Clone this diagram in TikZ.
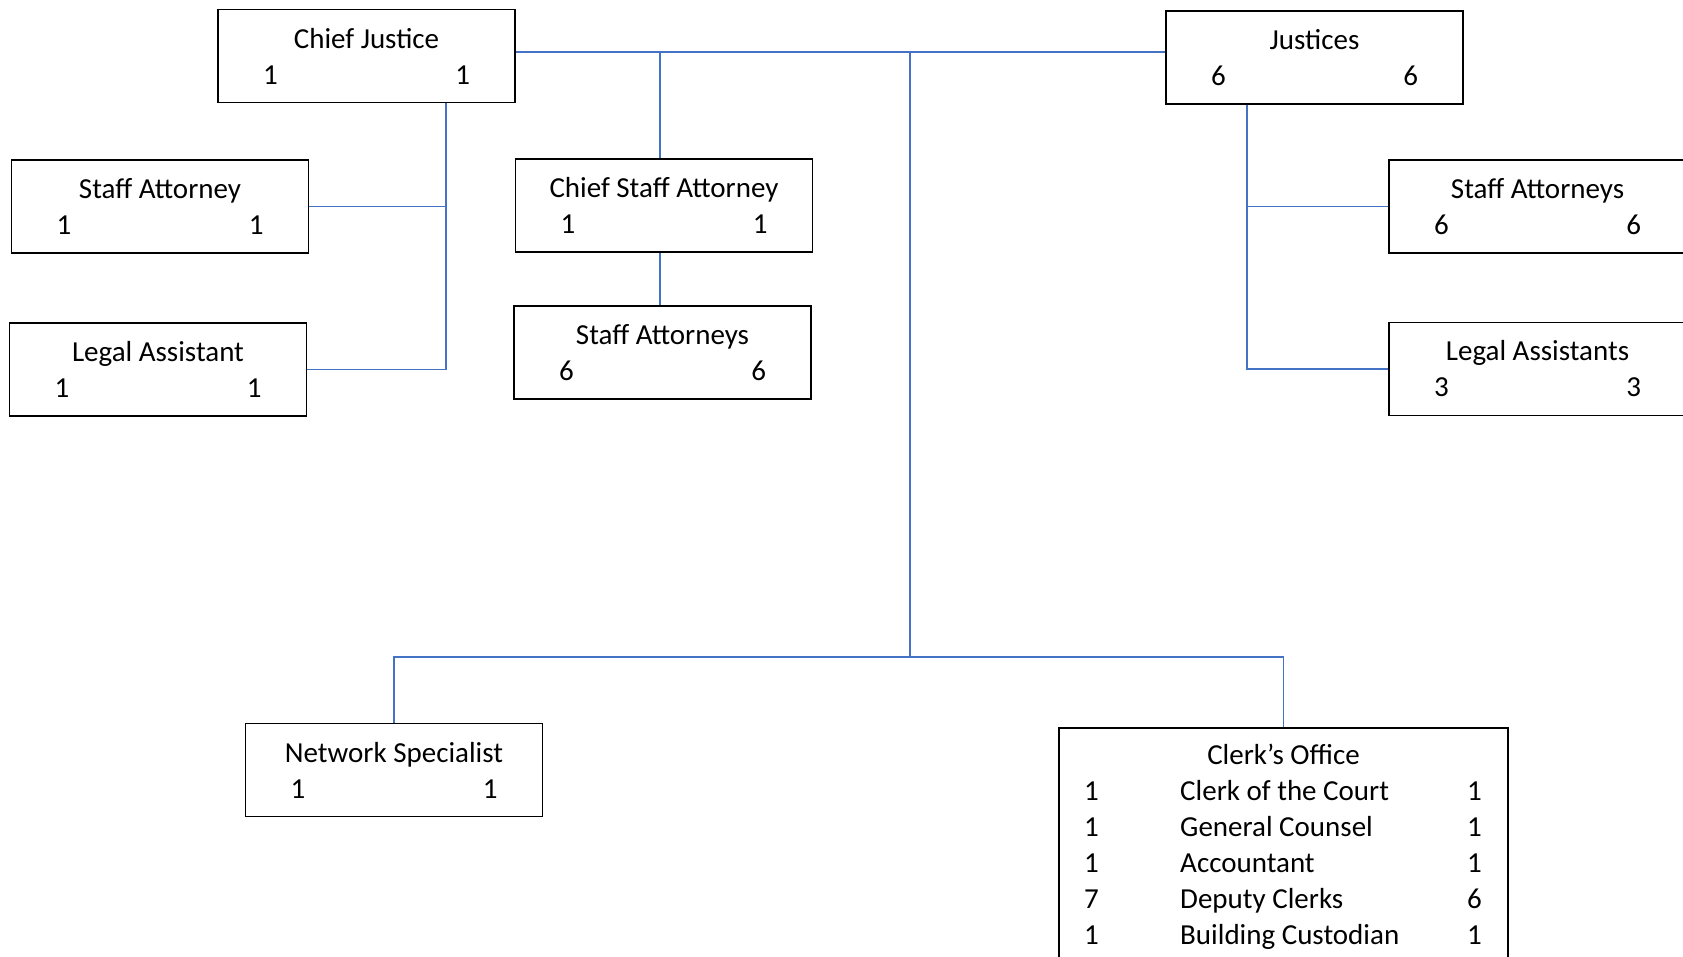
\documentclass[tikz,border=0pt]{standalone}
\usepackage{fontspec}
\setmainfont{Carlito}
\usetikzlibrary{calc}
\definecolor{linkblue}{HTML}{4472C4}
\newcommand{\posttext}[3]{\makebox[207pt]{#1}\\\makebox[207pt]{#2\hfill#3}}
\tikzset{
    post/.style =   {rectangle,
                    fill=white,
                    draw=black,
                    text=black,
                    line width=1.6pt,
                    minimum width=297pt,
                    minimum height=93pt,
                    inner xsep=45pt,
                    inner ysep=0pt,
                    align=center},
    office/.style = {rectangle,
                    fill=white,
                    draw=black,
                    line width=1.6pt,
                    minimum width=449pt,
                    minimum height=260pt,
                    anchor=north},
    entry/.style =  {inner sep=0pt,
                    text=black},
    link/.style =   {draw=linkblue,
                    line width=1.2pt}
}
\begin{document}
\begin{tikzpicture}[x=1pt,y=-1pt,font=\fontsize{29}{36}\selectfont]
            \useasboundingbox (0,0) rectangle (1683,957);
            \clip (0,0) rectangle (1683,957);
            \fill[white] (0,0) rectangle (1683,957);
            % boxes
            \node[post]   (cj)    at (366.5,56)      {\posttext{Chief Justice}{1}{1}};
            \node[post]   (just)  at (1314.5,57.5)   {\posttext{Justices}{6}{6}};
            \node[post]   (sa)    at (160,206.5)     {\posttext{Staff Attorney}{1}{1}};
            \node[post]   (la)    at (158,369.5)     {\posttext{Legal Assistant}{1}{1}};
            \node[post]   (csa)   at (664,205.5)     {\posttext{Chief Staff Attorney}{1}{1}};
            \node[post]   (csas)  at (662.5,352.5)   {\posttext{Staff Attorneys}{6}{6}};
            \node[post]   (jsa)   at (1537.5,206.5)  {\posttext{Staff Attorneys}{6}{6}};
            \node[post]   (jla)   at (1537.5,369)    {\posttext{Legal Assistants}{3}{3}};
            \node[post]   (ns)    at (394,770)       {\posttext{Network Specialist}{1}{1}};
            \node[office] (clerk) at (1283.5,727)    {};
            \node[entry,anchor=base] (cotitle) at (1283.5,764) {Clerk’s Office};
            \foreach \a/\job/\b [count=\i from 0] in {1/Clerk of the Court/1,
                    1/General Counsel/1, 1/Accountant/1, 7/Deputy Clerks/6,
                    1/Building Custodian/1}
            {
                \node[entry,anchor=base]      (cnl\i)  at (1091.5,{800+36.2*\i}) {\a};
                \node[entry,anchor=base west] (cjob\i) at (1180,{800+36.2*\i})   {\job};
                \node[entry,anchor=base]      (cnr\i)  at (1474.5,{800+36.2*\i}) {\b};
            }
            % taps
            \coordinate (toptap) at (910,52);
            \coordinate (hub)    at (910,657);
            \coordinate (csatap) at (660,52);
            \coordinate (cjtap)  at (446,0);
            \coordinate (jtap)   at (1247,0);
            % links
            \draw[link]  (cj.east |- toptap) -- (just.west |- toptap);
            \draw[link]  (toptap) -- (hub);
            \draw[link]  (csatap) -- (csatap |- csa.north);
            \draw[link]  (csatap |- csa.south) -- (csatap |- csas.north);
            \draw[link]  (cj.south -| cjtap) |- (la.east);
            \draw[link]  (cjtap |- sa.east) -- (sa.east);
            \draw[link]  (just.south -| jtap) |- (jla.west);
            \draw[link]  (jtap |- jsa.west) -- (jsa.west);
            \draw[link]  (ns.north) |- (hub) -| (clerk.north);
        \end{tikzpicture}
\end{document}
